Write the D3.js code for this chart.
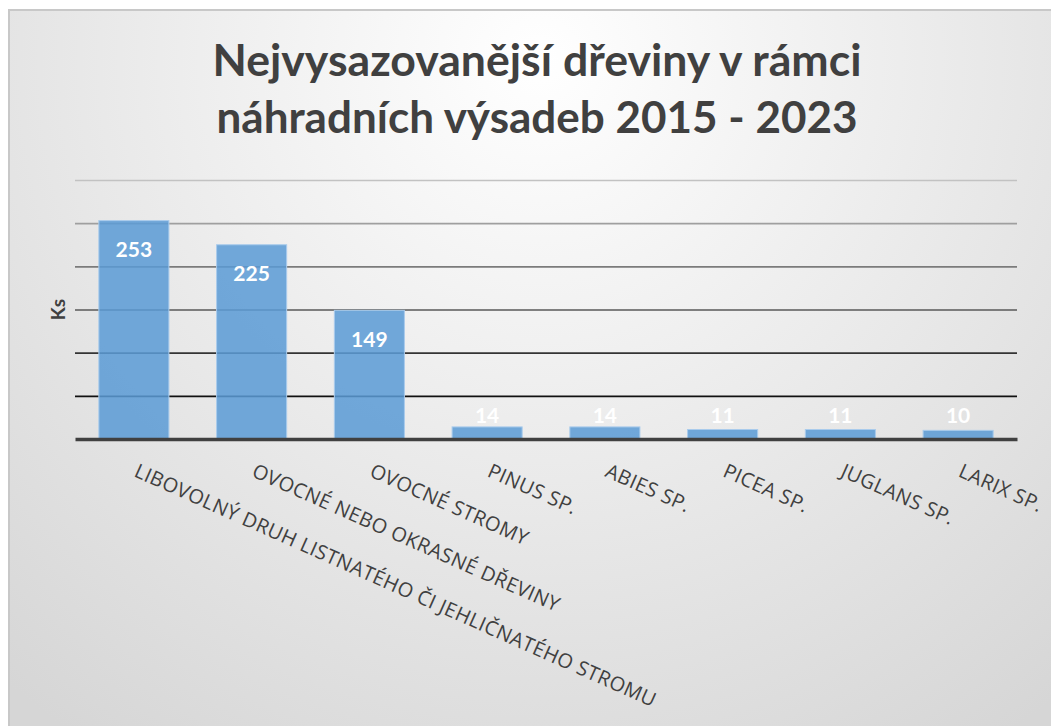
<!DOCTYPE html>
<html>
<head>
<meta charset="utf-8">
<script src="https://cdn.jsdelivr.net/npm/d3@7"></script>
<style>
  html, body { margin: 0; padding: 0; background: #ffffff; }
  #graph { width: 1051px; height: 726px; }
</style>
</head>
<body>
<div id="graph"></div>
<script>
const categories = [
  'LIBOVOLNÝ DRUH LISTNATÉHO ČI JEHLIČNATÉHO STROMU',
  'OVOCNÉ NEBO OKRASNÉ DŘEVINY',
  'OVOCNÉ STROMY',
  'PINUS SP.',
  'ABIES SP.',
  'PICEA SP.',
  'JUGLANS SP.',
  'LARIX SP.'
];
const values     = [253, 225, 149, 14, 14, 11, 11, 10];
const gridTicks  = [50, 100, 150, 200, 250, 300];
const titleLines = ['Nejvysazovanější dřeviny v rámci', 'náhradních výsadeb 2015 - 2023'];
const yLabel     = 'Ks';

function BarGraph(divID) {
  let widthContainer  = 1051;
  let heightContainer = 726;
  let margin          = {top: 180, left: 75, right: 34, bottom: 287};
  const labelAngle    = 24;

  let data = categories.map((c, i) => ({category: c, value: values[i]}));

  d3.select('#' + divID).selectAll('svg').remove();

  let svg = d3.select('#' + divID)
    .append('svg')
    .attr('width',  widthContainer)
    .attr('height', heightContainer);

  // Chart area background
  let gradient = svg.append('defs')
    .append('radialGradient')
    .attr('id', 'bgGradient')
    .attr('gradientUnits', 'userSpaceOnUse')
    .attr('cx', 540).attr('cy', 60).attr('r', 820);
  gradient.append('stop').attr('offset', '0%').attr('stop-color', '#ffffff');
  gradient.append('stop').attr('offset', '100%').attr('stop-color', '#d6d6d6');

  svg.append('rect')
    .attr('x', 9).attr('y', 10)
    .attr('width', 1080).attr('height', 740)
    .style('fill', 'url(#bgGradient)')
    .style('stroke', '#c8c8c8')
    .style('stroke-width', 2);

  let xScale = d3.scaleBand()
    .domain(categories)
    .range([margin.left, widthContainer - margin.right])
    .paddingInner(0.405)
    .paddingOuter(0.2025);

  let yScale = d3.scaleLinear()
    .domain([0, 300])
    .range([heightContainer - margin.bottom, margin.top]);

  let gridColor = d3.scaleLinear()
    .domain([300, 50])
    .range(['#c2c2c2', '#111111']);

  const plotRight = xScale.range()[1];

  // Gridlines
  svg.append('g')
    .attr('class', 'grid')
    .attr('transform', `translate(${margin.left}, 0)`)
    .call(d3.axisLeft(yScale).tickValues(gridTicks).tickSizeInner(-(plotRight - margin.left)).tickSizeOuter(0).tickFormat(''))
    .call(g => g.select('.domain').remove())
    .selectAll('.tick line')
    .style('stroke', d => gridColor(d))
    .style('stroke-width', 1.6);

  // Bars
  svg.append('g')
    .selectAll('rect')
    .data(data)
    .enter()
    .append('rect')
    .attr('x',      d => xScale(d.category))
    .attr('y',      d => yScale(d.value))
    .attr('width',  xScale.bandwidth())
    .attr('height', d => yScale(0) - yScale(d.value))
    .style('fill', '#5b9bd5')
    .style('fill-opacity', 0.86)
    .style('stroke', '#a9cbec')
    .style('stroke-width', 1);

  // Baseline
  let xAxis = svg.append('g')
    .attr('class', 'x-axis')
    .attr('transform', `translate(0, ${yScale(0)})`)
    .call(d3.axisBottom(xScale).tickSize(0).tickFormat(''));
  xAxis.select('.domain')
    .style('stroke', '#404040')
    .style('stroke-width', 3.5);

  // Rotated category labels
  xAxis.selectAll('.tick')
    .append('text')
    .attr('transform', `translate(-1, 37) rotate(${labelAngle})`)
    .attr('text-anchor', 'start')
    .style('font-family', '"Open Sans", sans-serif')
    .style('font-size', '20px')
    .style('letter-spacing', '0.4px')
    .style('fill', '#404040')
    .text(d => d);

  // Value labels
  svg.append('g')
    .selectAll('text')
    .data(data)
    .enter()
    .append('text')
    .attr('x', d => xScale(d.category) + xScale.bandwidth() / 2)
    .attr('y', d => Math.min(yScale(d.value) + 28, yScale(0) - 25))
    .attr('text-anchor', 'middle')
    .attr('dominant-baseline', 'central')
    .style('font-family', 'Lato, sans-serif')
    .style('font-weight', 'bold')
    .style('font-size', '21px')
    .style('fill', '#ffffff')
    .text(d => d.value);

  // Y label
  svg.append('text')
    .attr('transform', `translate(57, ${yScale(150)}) rotate(-90)`)
    .attr('text-anchor', 'middle')
    .attr('dominant-baseline', 'central')
    .style('font-family', 'Lato, sans-serif')
    .style('font-weight', 'bold')
    .style('font-size', '19px')
    .style('fill', '#404040')
    .text(yLabel);

  // Title
  const titleWidths = [649, 641];
  svg.append('g')
    .selectAll('text')
    .data(titleLines)
    .enter()
    .append('text')
    .attr('x', 537)
    .attr('y', (d, i) => 76 + i * 57)
    .attr('text-anchor', 'middle')
    .attr('textLength', (d, i) => titleWidths[i])
    .attr('lengthAdjust', 'spacingAndGlyphs')
    .style('font-family', 'Lato, sans-serif')
    .style('font-weight', 'bold')
    .style('font-size', '43px')
    .style('fill', '#404040')
    .text(d => d);
}

BarGraph('graph');
</script>
</body>
</html>
